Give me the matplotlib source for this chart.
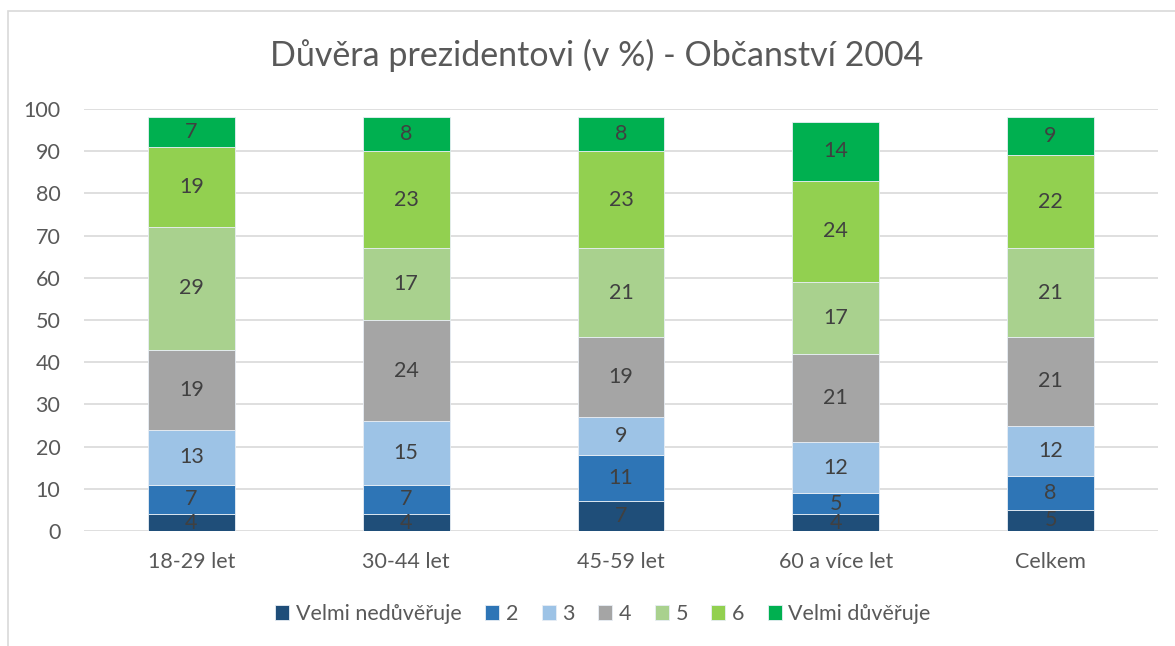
import matplotlib
matplotlib.use("Agg")
import matplotlib.pyplot as plt
import numpy as np
from matplotlib.patches import Rectangle

plt.rcParams['font.family'] = ['Lato', 'DejaVu Sans']

# Data
categories = ["18-29 let", "30-44 let", "45-59 let", "60 a více let", "Celkem"]
series_names = ["Velmi nedůvěřuje", "2", "3", "4", "5", "6", "Velmi důvěřuje"]
velmi_neduveruje = [4, 4, 7, 4, 5]
s2 = [7, 7, 11, 5, 8]
s3 = [13, 15, 9, 12, 12]
s4 = [19, 24, 19, 21, 21]
s5 = [29, 17, 21, 17, 21]
s6 = [19, 23, 23, 24, 22]
velmi_duveruje = [7, 8, 8, 14, 9]
series = [velmi_neduveruje, s2, s3, s4, s5, s6, velmi_duveruje]
colors = ["#1F4E79", "#2E75B6", "#9DC3E6", "#A5A5A5", "#A9D18E", "#92D050", "#00B050"]

W, H = 1175, 646
fig = plt.figure(figsize=(W / 100, H / 100), dpi=100)

# chart frame
fig.patches.append(Rectangle((8 / W, -0.1), 1.2, (H - 11) / H + 0.1,
                             transform=fig.transFigure, fill=False,
                             edgecolor="#D9D9D9", lw=1.2))

ax = fig.add_axes([84 / W, 115 / H, (1158 - 84) / W, 422 / H])
x = np.arange(len(categories))
bottom = np.zeros(len(categories))
handles = []
for name, vals, col in zip(series_names, series, colors):
    vals = np.array(vals, dtype=float)
    b = ax.bar(x, vals, 0.405, bottom=bottom, color=col, edgecolor="#E8EEF5",
               linewidth=0.6, label=name, zorder=3)
    handles.append(b)
    for xi, v, bt in zip(x, vals, bottom):
        ax.text(xi, bt + v / 2, f"{int(v)}", ha="center", va="center",
                fontsize=15.5, color="#404040", zorder=4)
    bottom += vals

ax.set_xlim(-0.5, len(categories) - 0.5)
ax.set_ylim(0, 100)
ax.set_yticks(np.arange(0, 101, 10))
ax.set_xticks(x)
ax.set_xticklabels(categories)
ax.tick_params(axis="both", length=0, labelsize=15.5, colors="#595959")
ax.tick_params(axis="y", pad=17)
ax.tick_params(axis="x", pad=15)
ax.grid(axis="y", color="#D9D9D9", lw=1.2, zorder=0)
for s in ax.spines.values():
    s.set_visible(False)

fig.text(597 / W, 1 - 55 / H, "Důvěra prezidentovi (v %) - Občanství 2004",
         ha="center", va="center", fontsize=24.5, color="#595959")

fig.legend(handles=handles, loc="center", bbox_to_anchor=(603 / W, 1 - 614 / H),
           ncol=7, frameon=False, fontsize=15.5, handlelength=0.65, handleheight=0.65,
           handletextpad=0.3, columnspacing=1.1, labelcolor="#595959")

fig.savefig("out.png", dpi=100)
